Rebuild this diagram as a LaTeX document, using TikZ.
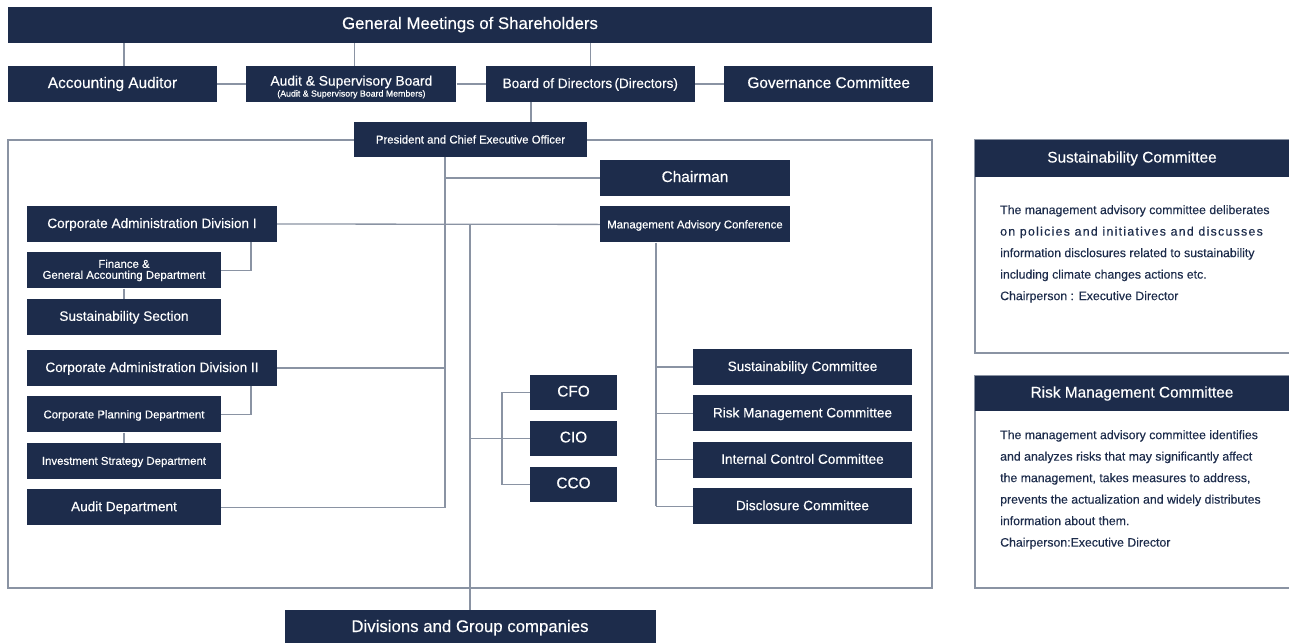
\documentclass[tikz,border=0pt]{standalone}
\usepackage{fontspec}
\setmainfont{Liberation Sans}[FakeBold=0.35]
\usetikzlibrary{positioning}
\definecolor{navy}{HTML}{1D2C4B}
\definecolor{linegray}{HTML}{8A93A3}

\begin{document}
\begin{tikzpicture}[x=1pt,y=-1pt,every node/.style={inner sep=0pt},
                    node distance=10pt]
  \tikzstyle{unit}=[fill=navy, text=white, minimum height=36pt, align=center]
  \tikzstyle{one}=[text height=0.95em, text depth=0.15em]
  \tikzstyle{link}=[draw=linegray, line width=1.3pt]
  \tikzstyle{frame}=[draw=linegray, line width=1.3pt]
  \tikzstyle{fhuge}=[font=\fontsize{16.8}{19}\selectfont]
  \tikzstyle{fbig}=[font=\fontsize{15.4}{18}\selectfont]
  \tikzstyle{fmid}=[font=\fontsize{13.6}{16}\selectfont]
  \tikzstyle{fsmall}=[font=\fontsize{11.4}{11}\selectfont]
  \tikzstyle{fbody}=[font=\fontsize{12.3}{21.5}\selectfont]

 \useasboundingbox (0,0) rectangle (1289,642);

 \draw[frame] (8,140) rectangle (932,588);
 \draw[frame] (975,140) rectangle (1292,353);
 \draw[frame] (975,376) rectangle (1292,588);

 \coordinate (spine) at (445,0);
 \coordinate (mid) at (470,0);
 \coordinate (cx) at (502,0);
 \coordinate (cm) at (656,0);
 \coordinate (sub) at (251,0);

 \node[unit, one, fhuge, minimum width=924pt](gms) at (470,25) {General Meetings of Shareholders};

 \node[unit, one, fbig, minimum width=209pt](aa) at (112.5,84) {Accounting Auditor};
 \node[unit, font=\fontsize{13.8}{11}\selectfont, minimum width=210pt, right=29pt of aa](asb)
   {\rule{0pt}{16pt}Audit \& Supervisory Board\\{\fontsize{8.8}{9}\selectfont(Audit \& Supervisory Board Members)}};
 \node[unit, one, fmid, minimum width=209pt, right=29pt of asb](bod) {Board of Directors\,(Directors)};
 \node[unit, one, fbig, minimum width=209pt, right=29pt of bod](gov) {Governance Committee};

 \node[unit, one, fsmall, minimum width=233pt, minimum height=35pt](pres) at (470.5,139.5)
   {President and Chief Executive Officer};

 \node[unit, one, fbig, minimum width=190pt](chair) at (695,178) {Chairman};
 \node[unit, one, fsmall, minimum width=190pt, below=of chair](mac) {Management Advisory Conference};

 \node[unit, one, fmid, minimum width=250pt](div1) at (152,224) {Corporate Administration Division I};
 \node[unit, fsmall, minimum width=194pt, below=of div1.south west, anchor=north west](fin)
   {Finance \&\\General Accounting Department};
 \node[unit, one, fmid, minimum width=194pt, below=of fin](sus) {Sustainability Section};

 \node[unit, one, fmid, minimum width=250pt](div2) at (152,368) {Corporate Administration Division II};
 \node[unit, one, fsmall, minimum width=194pt, below=of div2.south west, anchor=north west](plan)
   {Corporate Planning Department};
 \node[unit, one, fsmall, minimum width=194pt, below=of plan](inv) {Investment Strategy Department};
 \node[unit, one, fmid, minimum width=194pt, below=of inv](audit) {Audit Department};

 \node[unit, one, fbig, minimum width=87pt, minimum height=35pt](cfo) at (573.5,392.5) {CFO};
 \node[unit, one, fbig, minimum width=87pt, minimum height=35pt, below=10.5pt of cfo](cio) {CIO};
 \node[unit, one, fbig, minimum width=87pt, minimum height=35pt, below=10.5pt of cio](cco) {CCO};

 \node[unit, one, fmid, minimum width=219pt](com1) at (802.5,367) {Sustainability Committee};
 \node[unit, one, fmid, minimum width=219pt, below=of com1](com2) {Risk Management Committee};
 \node[unit, one, fmid, minimum width=219pt, below=of com2](com3) {Internal Control Committee};
 \node[unit, one, fmid, minimum width=219pt, below=of com3](com4) {Disclosure Committee};

 \node[unit, one, fhuge, minimum width=371pt](divs) at (470,628) {Divisions and Group companies};

 \node[unit, one, fbig, minimum width=314pt, minimum height=37pt](sus_head) at (1132,158.5)
   {Sustainability Committee};
 \node[text=navy, fbody, align=left, anchor=north west](sus_text) at (1000,205)
   {The management advisory committee deliberates\\
    {\addfontfeature{LetterSpace=10.5}on policies and initiatives and discusses}\\
    information disclosures related to sustainability\\
    including climate changes actions etc.\\
    Chairperson : Executive Director};

 \node[unit, one, fbig, minimum width=314pt, minimum height=35pt](risk_head) at (1132,393.5)
   {Risk Management Committee};
 \node[text=navy, fbody, align=left, anchor=north west](risk_text) at (1000,430)
   {The management advisory committee identifies\\
    and analyzes risks that may significantly affect\\
    the management, takes measures to address,\\
    prevents the actualization and widely distributes\\
    information about them.\\
    Chairperson:Executive Director};

 \draw[link] ([xshift=11.5pt]aa.north) -- ([xshift=11.5pt]aa.north |- gms.south);
 \draw[link] ([xshift=3pt]asb.north) -- ([xshift=3pt]asb.north |- gms.south);
 \draw[link] (bod.north) -- (bod.north |- gms.south);
 \draw[link] (aa.east) -- (asb.west);
 \draw[link] (asb.east) -- (bod.west);
 \draw[link] (bod.east) -- (gov.west);
 \draw[link] ([xshift=60.5pt]pres.north) -- ([xshift=60.5pt]pres.north |- bod.south);

 \draw[link] (pres.south -| spine) -- (spine |- audit.east) -- (audit.east);
 \draw[link] (spine |- chair.west) -- (chair.west);
 \draw[link] (div1.east) -- (mac.west);
 \draw[link] (div2.east) -- (spine |- div2.east);
 \draw[link] (mid |- div1.east) -- (divs.north);
 \draw[link] (mid |- cio.west) -- (cio.west);
 \draw[link] (cfo.west) -- (cx |- cfo.west) -- (cx |- cco.west) -- (cco.west);
 \draw[link] (mac.south -| cm) -- (cm |- com4.west);
 \foreach \c in {com1,com2,com3,com4}
   \draw[link] (cm |- \c.west) -- (\c.west);

 \draw[link] (div1.south -| sub) |- (fin.east);
 \draw[link] (fin.south) -- (sus.north);
 \draw[link] (div2.south -| sub) |- (plan.east);
 \draw[link] (plan.south) -- (inv.north);

\end{tikzpicture}
\end{document}
